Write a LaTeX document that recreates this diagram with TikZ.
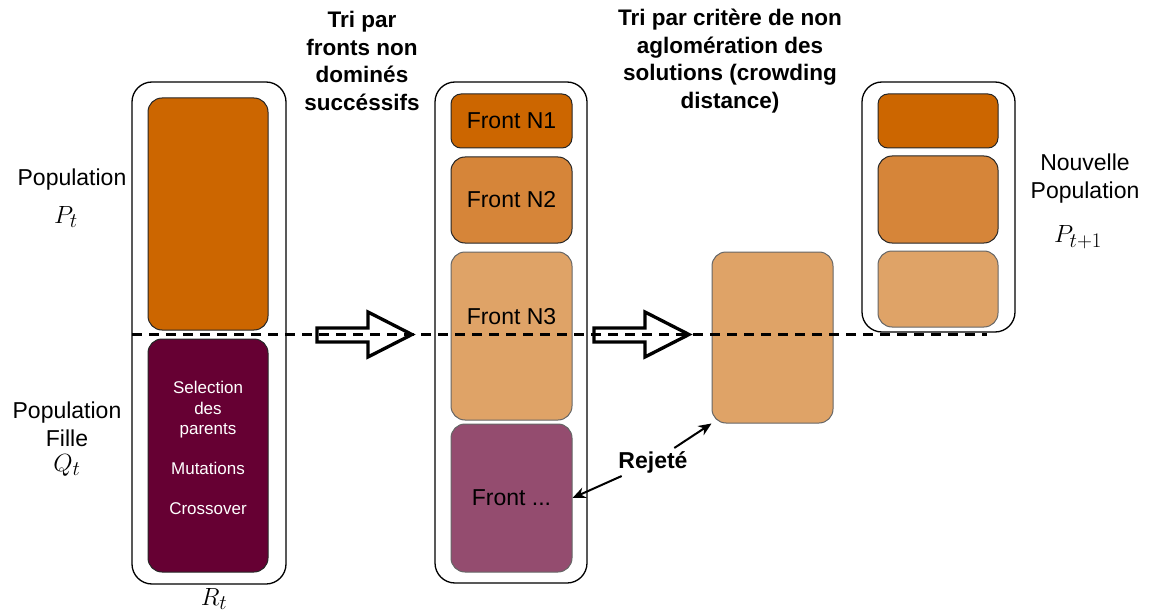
\documentclass[tikz,border=0pt]{standalone}
\usepackage{fontspec}
\setmainfont{Liberation Sans}
\usetikzlibrary{arrows.meta}
\definecolor{cA}{HTML}{CC6600}
\definecolor{cB}{HTML}{D68539}
\definecolor{cC}{HTML}{DFA367}
\definecolor{cQ}{HTML}{660033}
\definecolor{cX}{HTML}{944C6F}
\begin{document}
\begin{tikzpicture}[x=1pt,y=-1pt,
 outerbox/.style={draw=black, line width=1.3pt, rounded corners=20pt, inner sep=0pt},
 inbox/.style={draw=black!85, line width=1pt, rounded corners=14pt, inner sep=0pt, font=\fontsize{23}{27}\selectfont},
 lab/.style={font=\fontsize{23}{28}\selectfont, align=center, inner sep=0pt},
 ttl/.style={font=\fontsize{22.5}{27.5}\selectfont\bfseries, align=center, inner sep=0pt},
 mth/.style={font=\fontsize{28}{32}\selectfont, inner sep=0pt},
 wtxt/.style={text=white, font=\fontsize{17}{20.5}\selectfont, align=center, inner sep=0pt},
 blockarrow/.style={draw=black, fill=white, line width=3.3pt, line join=miter},
 rejarrow/.style={-{Stealth[length=13pt,width=11pt]}, line width=2pt},
 cut/.style={dash pattern=on 10pt off 7pt, line width=3pt}]
\useasboundingbox (0,0) rectangle (1149,615);
% left column R_t
\node[outerbox, minimum width=154, minimum height=502] (Rt) at (209,333) {};
\node[inbox, fill=cA, minimum width=120, minimum height=232] (Pt) at (208,214) {};
\node[inbox, fill=cQ, minimum width=120, minimum height=233] (Qt) at (208,455.5) {};
\node[wtxt] (ops) at (208,448) {Selection\\des\\parents\\[19pt]Mutations\\[19.5pt]Crossover};
% middle column
\node[outerbox, minimum width=152, minimum height=501] (Mid) at (511,332.5) {};
\node[inbox, fill=cA, minimum width=121, minimum height=54, rounded corners=10pt] (N1) at (511.5,121) {Front N1};
\node[inbox, fill=cB, minimum width=121, minimum height=86] (N2) at (511.5,200) {Front N2};
\node[inbox, fill=cC, draw=black!60, minimum width=121, minimum height=168] (N3) at (511.5,336) {};
\node[lab] (N3t) at (511.5,317) {Front N3};
\node[inbox, fill=cX, draw=black!60, minimum width=121, minimum height=148] (Nx) at (511.5,498) {Front ...};
% crowding box
\node[inbox, fill=cC, draw=black!60, minimum width=121, minimum height=171] (Cr) at (772.5,337.5) {};
% right column
\node[outerbox, minimum width=153, minimum height=250] (Rp) at (938.5,207) {};
\node[inbox, fill=cA, minimum width=120, minimum height=54, rounded corners=10pt] (R1) at (938,121) {};
\node[inbox, fill=cB, minimum width=120, minimum height=87] (R2) at (938,199.5) {};
\node[inbox, fill=cC, draw=black!60, minimum width=120, minimum height=76] (R3) at (938,289) {};
% labels
\node[lab] (popP) at (72,180) {Population};
\node[mth] (symP) at (66,217) {$P_t$};
\node[lab] (popQ) at (67,424) {Population\\Fille};
\node[mth] (symQ) at (67,465) {$Q_t$};
\node[mth] (symR) at (214,599) {$R_t$};
\node[lab] (popN) at (1085,179) {Nouvelle\\Population};
\node[mth] (symPn) at (1078,237) {$P_{t+1}$};
\node[ttl] (t1) at (362,61) {Tri par\\fronts non\\dominés\\succéssifs};
\node[ttl] (t2) at (730,61) {Tri par critère de non\\aglomération des\\solutions (crowding\\distance)};
% block arrows
\draw[blockarrow] (317,328) -- (368,328) -- (368,312) -- (412,334.5) -- (368,357) -- (368,342) -- (317,342) -- cycle;
\draw[blockarrow] (594,328) -- (645,328) -- (645,312) -- (689,334.5) -- (645,357) -- (645,342) -- (594,342) -- cycle;
% cut line
\coordinate (cl) at (132,334);
\coordinate (cr) at (987,334);
\draw[cut] (cl) -- (cr);
% rejected
\node[font=\fontsize{23}{27}\selectfont\bfseries, inner sep=3pt] (rej) at (653,462) {Rejeté};
\draw[rejarrow] (rej) -- (Nx.east);
\draw[rejarrow] (rej) -- (Cr.south west);
\end{tikzpicture}
\end{document}
